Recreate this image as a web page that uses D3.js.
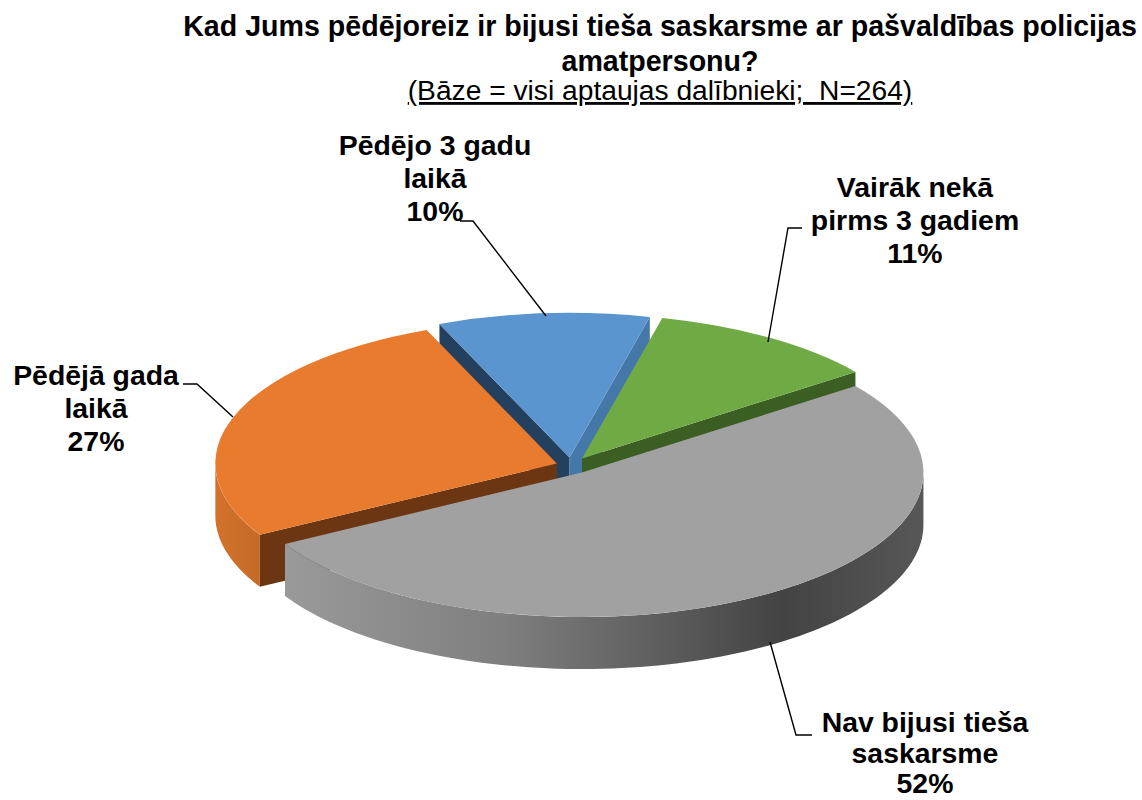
<!DOCTYPE html>
<html><head><meta charset="utf-8">
<script src="https://cdn.jsdelivr.net/npm/d3@7"></script>
<style>html,body{margin:0;padding:0;background:#fff}svg{display:block}text{font-family:"Liberation Sans",Arial,sans-serif;fill:#000}</style>
</head><body><svg id="c" width="1142" height="800"></svg>
<script>
const categories=["Pēdējā gada laikā","Pēdējo 3 gadu laikā","Vairāk nekā pirms 3 gadiem","Nav bijusi tieša saskarsme"];
const values=[27,10,11,52];
const explosion=[15,19,20,20];
const topColors=["#E97B2E","#5B95CF","#6FAA45","#A1A1A1"];
const faceStart=["#6B3611","#23405E","#3B5E22","#A1A1A1"];
const faceEnd=["#E97B2E","#4478A8","#3B5E22","#A1A1A1"];
const titleLines=["Kad Jums pēdējoreiz ir bijusi tieša saskarsme ar pašvaldības policijas","amatpersonu?"];
const subtitle="(Bāze = visi aptaujas dalībnieki;  N=264)";
const labelLines=[["Pēdējā gada","laikā","27%"],["Pēdējo 3 gadu","laikā","10%"],["Vairāk nekā","pirms 3 gadiem","11%"],["Nav bijusi tieša","saskarsme","52%"]];

const cx=571,cy=465.5,R=341.5,k=0.423,T=52,startDeg=240.4;
const svg=d3.select("#c");
const defs=svg.append("defs");
function grad(id,stops){const g=defs.append("linearGradient").attr("id",id);stops.forEach(s=>g.append("stop").attr("offset",s[0]).attr("stop-color",s[1]));}
grad("wall0",[[0,"#D2732C"],[1,"#C46A27"]]);
grad("wall3",[[0,"#9A9A9A"],[0.35,"#7E7E7E"],[0.78,"#434343"],[1,"#575757"]]);

const start=startDeg*Math.PI/180;
const pie=d3.pie().sort(null).startAngle(start).endAngle(start+2*Math.PI);
const arcs=pie(values);
const arcGen=d3.arc().innerRadius(0).outerRadius(R);
const line=d3.line();
const g=svg.append("g");
[1,2,0,3].forEach(i=>{
  const a=arcs[i],mid=(a.startAngle+a.endAngle)/2;
  const ax=cx+explosion[i]*Math.sin(mid),ay=cy-explosion[i]*Math.cos(mid)*k;
  const pt=t=>[ax+R*Math.sin(t),ay-R*k*Math.cos(t)];
  const down=p=>[p[0],p[1]+T];
  const sl=g.append("g").attr("class","slice");
  const apex=[ax,ay];
  const face=(t,c)=>{const e=pt(t);sl.append("path").attr("d",line([apex,e,down(e),down(apex)])+"Z").attr("fill",c);};
  if(Math.sin(a.startAngle)<0) face(a.startAngle,faceStart[i]);
  if(Math.sin(a.endAngle)>0) face(a.endAngle,faceEnd[i]);
  const rim=d3.range(0,121).map(j=>a.startAngle+(a.endAngle-a.startAngle)*j/120).filter(t=>Math.cos(t)<0).map(pt);
  if(rim.length>1) sl.append("path").attr("d",line(rim.concat(rim.map(down).reverse()))+"Z").attr("fill",`url(#wall${i})`);
  sl.append("path").attr("d",arcGen(a)).attr("transform",`translate(${ax},${ay}) scale(1,${k})`).attr("fill",topColors[i]);
});

const leaders=[[[183,384],[197,384],[233,417]],[[460,221],[473,221],[546,316]],[[802,228],[788,228],[768,342]],[[770,642],[796,735],[812,735]]];
leaders.forEach(l=>svg.append("path").attr("d",line(l)).attr("fill","none").attr("stroke","#000").attr("stroke-width",1.4));

const labelPos=[[96,385],[435,155],[915,197],[925,732]];
const lineOffsets=[[0,33,66],[0,33,66],[0,33,66],[0,30.5,61]];
labelLines.forEach((ls,i)=>{ls.forEach((s,j)=>{
  svg.append("text").attr("x",labelPos[i][0]).attr("y",labelPos[i][1]+lineOffsets[i][j]).attr("text-anchor","middle")
    .attr("font-size",28.4).attr("font-weight","bold").text(s);
});});

titleLines.forEach((s,j)=>svg.append("text").attr("x",660).attr("y",36+j*35).attr("text-anchor","middle").attr("font-size",28.6).attr("font-weight","bold").text(s));
svg.append("text").attr("x",660).attr("y",100).attr("text-anchor","middle").attr("font-size",28.2).attr("text-decoration","underline").style("white-space","pre").text(subtitle);
</script></body></html>
